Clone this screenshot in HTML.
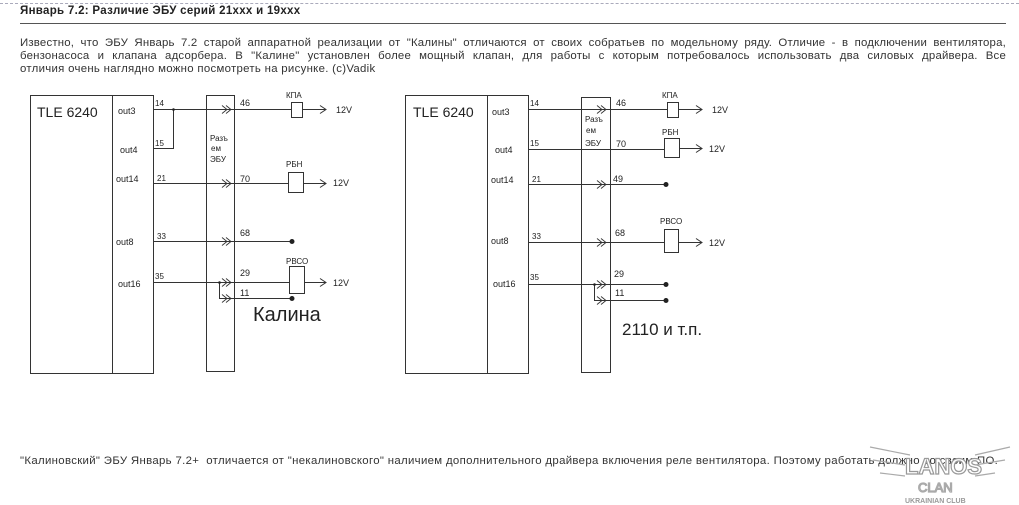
<!DOCTYPE html>
<html><head><meta charset="utf-8"><style>
body{margin:0;background:#fff;width:1019px;height:505px;overflow:hidden;font-family:"Liberation Sans","DejaVu Sans",sans-serif;}
svg{position:absolute;left:0;top:0}
.p{position:absolute;left:20px;width:986px;font-size:11.4px;color:#333;line-height:13px;text-align:justify;letter-spacing:0.3px}
</style></head><body>
<div style="position:absolute;left:0;top:3px;width:1019px;border-top:1px dashed #aab"></div>
<div style="position:absolute;left:20px;top:5px;font-size:11.5px;font-weight:bold;color:#222;letter-spacing:0.3px">Январь 7.2: Различие ЭБУ серий 21xxx и 19xxx</div>
<div style="position:absolute;left:20px;top:23px;width:986px;border-top:1px solid #555"></div>
<div class="p" style="top:37px;letter-spacing:0.2px;text-align-last:justify">Известно, что ЭБУ Январь 7.2 старой аппаратной реализации от "Калины" отличаются от своих собратьев по модельному ряду. Отличие - в подключении вентилятора, бензонасоса и клапана адсорбера. В "Калине" установлен более мощный клапан, для работы с которым потребовалось использовать два силовых драйвера. Все</div>
<div class="p" style="top:63px;text-align:left">отличия очень наглядно можно посмотреть на рисунке. (c)Vadik</div>
<div class="p" style="top:455px;text-align:left;letter-spacing:0.33px;width:1000px;white-space:nowrap">"Калиновский" ЭБУ Январь 7.2+&nbsp; отличается от "некалиновского" наличием дополнительного драйвера включения реле вентилятора. Поэтому работать должно со своим ПО.</div>
<svg width="1019" height="505" font-family="Liberation Sans,sans-serif">
<defs>
<g id="ch"><path d="M-6,-4 L-1,0 L-6,4 M-2,-4 L3,0 L-2,4" fill="none" stroke="#333" stroke-width="0.9"/></g>
<g id="ar"><path d="M-6,-4 L0,0 L-6,4" fill="none" stroke="#333"/></g>
</defs>
<g stroke="#333" fill="none" stroke-width="1">
<rect x="30.5" y="95.5" width="123" height="278"/>
<line x1="112.5" y1="95" x2="112.5" y2="373"/>
<rect x="206.5" y="95.5" width="28" height="276"/>
<line x1="153" y1="109.5" x2="291" y2="109.5"/>
<polyline points="153,148.5 173.5,148.5 173.5,109"/>
<line x1="153" y1="183.5" x2="288" y2="183.5"/>
<line x1="153" y1="241.5" x2="292" y2="241.5"/>
<line x1="153" y1="282.5" x2="289" y2="282.5"/>
<polyline points="219.5,282 219.5,298.5 292,298.5"/>
<rect x="291.5" y="102.5" width="11" height="15"/>
<line x1="302" y1="109.5" x2="326" y2="109.5"/>
<rect x="288.5" y="172.5" width="15" height="20"/>
<line x1="303" y1="183.5" x2="326" y2="183.5"/>
<rect x="289.5" y="266.5" width="15" height="27"/>
<line x1="304" y1="282.5" x2="326" y2="282.5"/>
<rect x="405.5" y="95.5" width="123" height="278"/>
<line x1="487.5" y1="95" x2="487.5" y2="373"/>
<rect x="581.5" y="97.5" width="29" height="275"/>
<line x1="528" y1="109.5" x2="667" y2="109.5"/>
<rect x="667.5" y="102.5" width="11" height="15"/>
<line x1="678" y1="109.5" x2="702" y2="109.5"/>
<line x1="528" y1="149.5" x2="664" y2="149.5"/>
<rect x="664.5" y="138.5" width="15" height="19"/>
<line x1="679" y1="148.5" x2="702" y2="148.5"/>
<line x1="528" y1="184.5" x2="666" y2="184.5"/>
<line x1="528" y1="242.5" x2="664" y2="242.5"/>
<rect x="664.5" y="229.5" width="14" height="23"/>
<line x1="678" y1="242.5" x2="702" y2="242.5"/>
<line x1="528" y1="284.5" x2="666" y2="284.5"/>
<polyline points="594.5,284 594.5,300.5 666,300.5"/>
</g>
<g>
<use href="#ch" x="228" y="109.5"/><use href="#ch" x="228" y="183.5"/><use href="#ch" x="228" y="241.5"/><use href="#ch" x="228" y="282.5"/><use href="#ch" x="228" y="298.5"/>
<use href="#ar" x="326" y="109.5"/><use href="#ar" x="326" y="183.5"/><use href="#ar" x="326" y="282.5"/>
<use href="#ch" x="603" y="109.5"/><use href="#ch" x="603" y="184.5"/><use href="#ch" x="603" y="242.5"/><use href="#ch" x="603" y="284.5"/><use href="#ch" x="603" y="300.5"/>
<use href="#ar" x="702" y="109.5"/><use href="#ar" x="702" y="148.5"/><use href="#ar" x="702" y="242.5"/>
</g>
<g fill="#222">
<circle cx="173.5" cy="109.5" r="1.3"/><circle cx="219.5" cy="282.5" r="1.3"/><circle cx="594.5" cy="284.5" r="1.3"/>
<circle cx="292" cy="241.5" r="2.5"/><circle cx="292" cy="298.5" r="2.5"/>
<circle cx="666" cy="184.5" r="2.5"/><circle cx="666" cy="284.5" r="2.5"/><circle cx="666" cy="300.5" r="2.5"/>
</g>
<g fill="#222" font-size="9">
<text x="37" y="117" font-size="14">TLE 6240</text>
<text x="118" y="114">out3</text><text x="120" y="153">out4</text><text x="116" y="182">out14</text><text x="116" y="245">out8</text><text x="118" y="287">out16</text>
<text x="155" y="106" font-size="8">14</text><text x="155" y="146" font-size="8">15</text><text x="157" y="181" font-size="8">21</text><text x="157" y="239" font-size="8">33</text><text x="155" y="279" font-size="8">35</text>
<text x="240" y="106">46</text><text x="240" y="182">70</text><text x="240" y="236">68</text><text x="240" y="276">29</text><text x="240" y="296">11</text>
<text x="210" y="141" font-size="8">Разъ</text><text x="211" y="151" font-size="8">ем</text><text x="210" y="162" font-size="8">ЭБУ</text>
<text x="286" y="98" font-size="8">КПА</text><text x="286" y="167" font-size="8">РБН</text><text x="286" y="264" font-size="8">РВСО</text>
<text x="336" y="113">12V</text><text x="333" y="186">12V</text><text x="333" y="286">12V</text>
<text x="253" y="321" font-size="20">Калина</text>
<text x="413" y="117" font-size="14">TLE 6240</text>
<text x="492" y="115">out3</text><text x="495" y="153">out4</text><text x="491" y="183">out14</text><text x="491" y="244">out8</text><text x="493" y="287">out16</text>
<text x="530" y="106" font-size="8">14</text><text x="530" y="146" font-size="8">15</text><text x="532" y="182" font-size="8">21</text><text x="532" y="239" font-size="8">33</text><text x="530" y="280" font-size="8">35</text>
<text x="616" y="106">46</text><text x="616" y="147">70</text><text x="613" y="182">49</text><text x="615" y="236">68</text><text x="614" y="277">29</text><text x="615" y="296">11</text>
<text x="585" y="122" font-size="8">Разъ</text><text x="586" y="133" font-size="8">ем</text><text x="585" y="146" font-size="8">ЭБУ</text>
<text x="662" y="98" font-size="8">КПА</text><text x="662" y="135" font-size="8">РБН</text><text x="660" y="224" font-size="8">РВСО</text>
<text x="712" y="113">12V</text><text x="709" y="152">12V</text><text x="709" y="246">12V</text>
<text x="622" y="335" font-size="17">2110 и т.п.</text>
</g>
<g fill="none" stroke="#aaa" stroke-width="1.2">
<text x="905" y="474" font-size="22" font-weight="bold" fill="#fff" stroke="#999">LANOS</text>
<text x="918" y="492" font-size="13" fill="#fff" stroke="#aaa">CLAN</text>
<path d="M870,447 L910,455 M873,460 L905,465 M880,473 L905,476 M1010,447 L975,455 M1005,460 L975,465 M995,473 L975,476"/>
</g>
<text x="905" y="503" font-size="7" fill="#999" font-weight="bold">UKRAINIAN CLUB</text>
</svg>
</body></html>
